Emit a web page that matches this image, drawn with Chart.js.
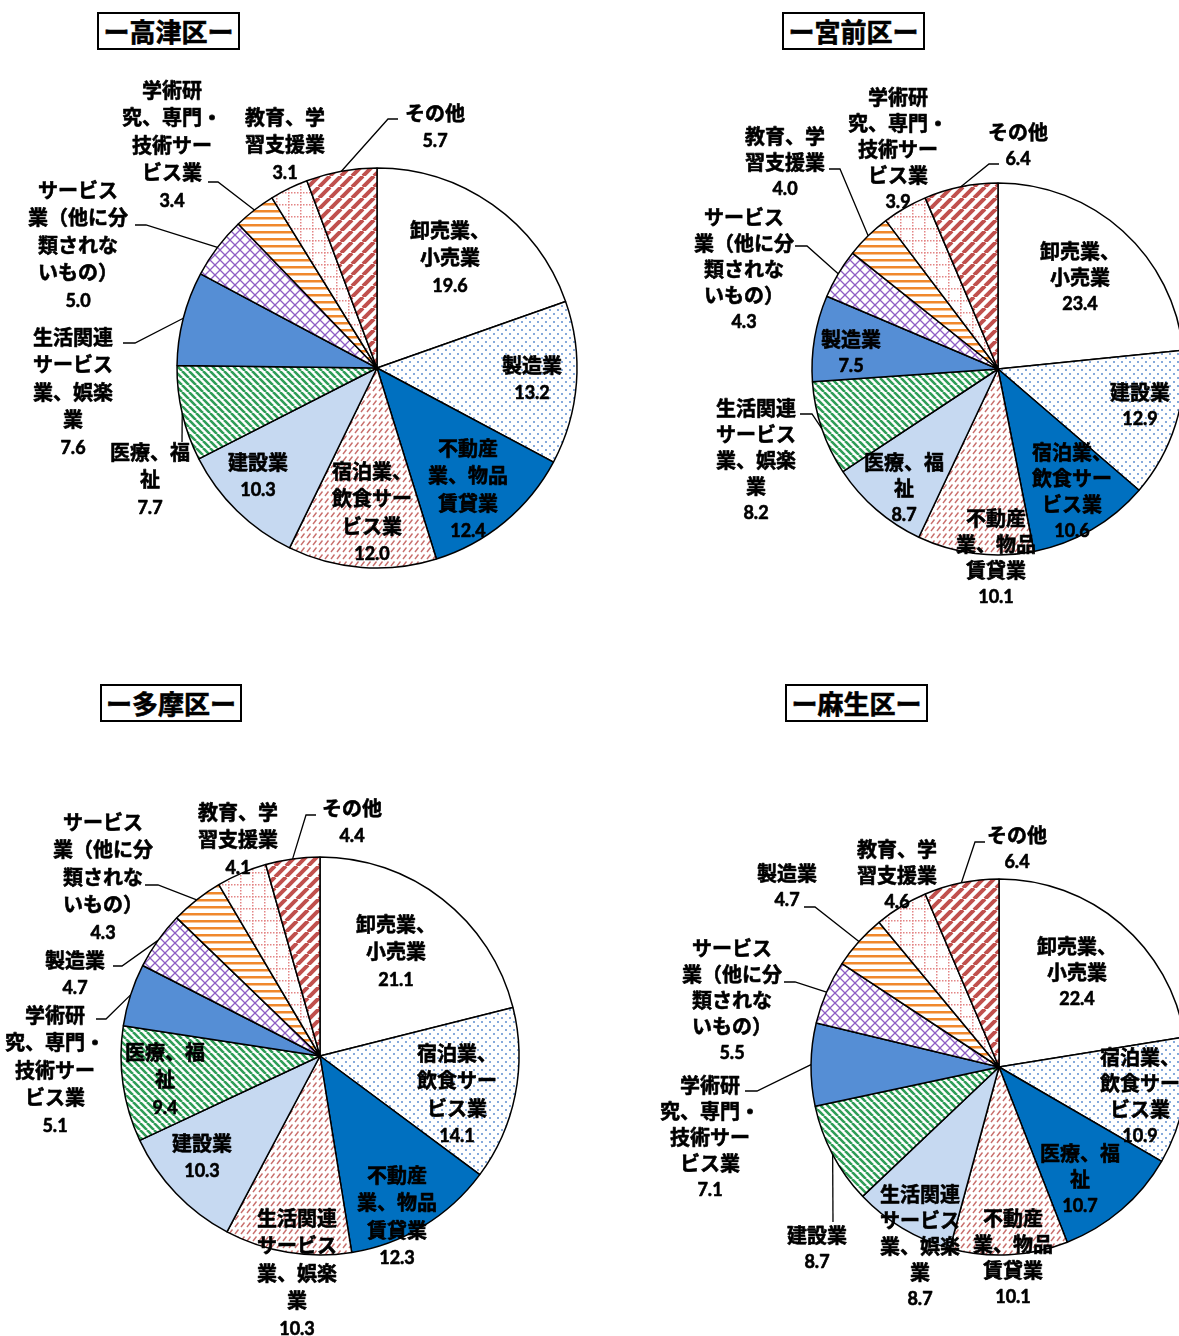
<!DOCTYPE html>
<html lang="ja">
<head>
<meta charset="utf-8">
<title>区別 産業別構成比</title>
<script src="https://cdn.jsdelivr.net/npm/chart.js@4.4.1/dist/chart.umd.min.js"></script>
<style>
  body {
    margin: 0;
    width: 1179px;
    height: 1336px;
    overflow: hidden;
    background: #fff;
    position: relative;
    font-family: "Noto Sans CJK JP", sans-serif;
  }
  canvas {
    position: absolute;
  }
  .ward-title {
    position: absolute;
    box-sizing: border-box;
    height: 38px;
    border: 2px solid #000;
    font-weight: bold;
    font-size: 26px;
    line-height: 33px;
    text-align: center;
    -webkit-text-stroke: 0.6px #000;
  }
</style>
</head>
<body>
<div class="ward-title" style="left:97px;top:12px;width:143px;">ー高津区ー</div>
<div class="ward-title" style="left:782px;top:12px;width:143px;">ー宮前区ー</div>
<div class="ward-title" style="left:100px;top:684px;width:142px;">ー多摩区ー</div>
<div class="ward-title" style="left:785px;top:684px;width:143px;">ー麻生区ー</div>

<canvas id="takatsuChart" width="600" height="668" style="left:0;top:0;"></canvas>
<canvas id="miyamaeChart" width="600" height="668" style="left:600px;top:0;"></canvas>
<canvas id="tamaChart" width="600" height="668" style="left:0;top:668px;"></canvas>
<canvas id="asaoChart" width="600" height="668" style="left:600px;top:668px;"></canvas>

<script>
// Category names (line breaks as in the printed labels) and shares (%)
const takatsuCategories = [
  "卸売業、\n小売業", "製造業", "不動産\n業、物品\n賃貸業", "宿泊業、\n飲食サー\nビス業",
  "建設業", "医療、福\n祉", "生活関連\nサービス\n業、娯楽\n業",
  "サービス\n業（他に分\n類されな\nいもの）", "学術研\n究、専門・\n技術サー\nビス業",
  "教育、学\n習支援業", "その他"
];
const takatsuValues = [19.6, 13.2, 12.4, 12.0, 10.3, 7.7, 7.6, 5.0, 3.4, 3.1, 5.7];

const miyamaeCategories = [
  "卸売業、\n小売業", "建設業", "宿泊業、\n飲食サー\nビス業", "不動産\n業、物品\n賃貸業",
  "医療、福\n祉", "生活関連\nサービス\n業、娯楽\n業", "製造業",
  "サービス\n業（他に分\n類されな\nいもの）", "教育、学\n習支援業",
  "学術研\n究、専門・\n技術サー\nビス業", "その他"
];
const miyamaeValues = [23.4, 12.9, 10.6, 10.1, 8.7, 8.2, 7.5, 4.3, 4.0, 3.9, 6.4];

const tamaCategories = [
  "卸売業、\n小売業", "宿泊業、\n飲食サー\nビス業", "不動産\n業、物品\n賃貸業",
  "生活関連\nサービス\n業、娯楽\n業", "建設業", "医療、福\n祉",
  "学術研\n究、専門・\n技術サー\nビス業", "製造業",
  "サービス\n業（他に分\n類されな\nいもの）", "教育、学\n習支援業", "その他"
];
const tamaValues = [21.1, 14.1, 12.3, 10.3, 10.3, 9.4, 5.1, 4.7, 4.3, 4.1, 4.4];

const asaoCategories = [
  "卸売業、\n小売業", "宿泊業、\n飲食サー\nビス業", "医療、福\n祉", "不動産\n業、物品\n賃貸業",
  "生活関連\nサービス\n業、娯楽\n業", "建設業",
  "学術研\n究、専門・\n技術サー\nビス業", "サービス\n業（他に分\n類されな\nいもの）",
  "製造業", "教育、学\n習支援業", "その他"
];
const asaoValues = [22.4, 10.9, 10.7, 10.1, 8.7, 8.7, 7.1, 5.5, 4.7, 4.6, 6.4];

// Label layout (page coordinates: centre x, middle of first line) and leader elbows
const takatsuLabelXY = [[450, 230], [532, 365], [468, 448], [372, 471], [258, 462], [150, 452],
  [73, 337], [78, 190], [172, 90], [285, 117], [435, 113]];
const takatsuLeaders = [null, null, null, null, null, [[182, 442]], [[123, 343], [135, 343]],
  [[135, 225], [146, 225]], [[208, 182], [218, 182]], null, [[398, 119], [388, 119]]];

const miyamaeLabelXY = [[1080, 251], [1140, 392], [1072, 452], [996, 518], [904, 462], [756, 408],
  [851, 339], [744, 217], [785, 136], [898, 97], [1018, 132]];
const miyamaeLeaders = [null, null, null, null, null, [[800, 414], [812, 414]], null,
  [[795, 246], [807, 246]], [[829, 169], [840, 169]], null, [[999, 164], [989, 164]]];

const tamaLabelXY = [[396, 924], [457, 1053], [397, 1175], [297, 1218], [202, 1143], [165, 1052],
  [55, 1015], [75, 960], [103, 822], [238, 812], [352, 808]];
const tamaLeaders = [null, null, null, null, null, null, [[96, 1019], [106, 1019]],
  [[113, 966], [122, 966]], [[145, 885], [158, 885]], null, [[316, 815], [306, 815]]];

const asaoLabelXY = [[1077, 946], [1140, 1057], [1080, 1153], [1013, 1218], [920, 1194], [817, 1235],
  [710, 1085], [732, 948], [787, 873], [897, 849], [1017, 835]];
const asaoLeaders = [null, null, null, null, null, [[833, 1222]], [[745, 1091], [757, 1091]],
  [[784, 982], [795, 982]], [[804, 907], [815, 907]], null, [[985, 842], [975, 842]]];

// Build a repeating fill from a small tile
const patternCtx = document.createElement("canvas").getContext("2d");
function makePattern(w, h, draw) {
  const tile = document.createElement("canvas");
  tile.width = w;
  tile.height = h;
  const g = tile.getContext("2d");
  g.fillStyle = "#ffffff";
  g.fillRect(0, 0, w, h);
  draw(g, w, h);
  return patternCtx.createPattern(tile, "repeat");
}

function diagonal(g, s, up) {
  g.beginPath();
  for (let k = -1; k <= 1; k++) {
    if (up) {
      g.moveTo(k * s, s);
      g.lineTo(k * s + s, 0);
    } else {
      g.moveTo(k * s, 0);
      g.lineTo(k * s + s, s);
    }
  }
  g.stroke();
}

// Fills by slice position (same order in every ward)
const sliceFills = [
  "#ffffff",
  makePattern(8, 8, (g) => {
    g.fillStyle = "#86aadb";
    g.fillRect(1, 1, 2, 2);
    g.fillRect(5, 5, 2, 2);
  }),
  "#0070c0",
  makePattern(6, 7, (g) => {
    g.strokeStyle = "#c86e6b";
    g.lineWidth = 1.4;
    g.beginPath();
    g.moveTo(1, 6);
    g.lineTo(4.5, 1.5);
    g.stroke();
  }),
  "#c6d9f1",
  makePattern(7, 7, (g, s) => {
    g.strokeStyle = "#2f9d57";
    g.lineWidth = 2.6;
    diagonal(g, s, false);
  }),
  "#558ed5",
  makePattern(10, 10, (g, s) => {
    g.strokeStyle = "#8f5fc4";
    g.lineWidth = 1.3;
    diagonal(g, s, false);
    diagonal(g, s, true);
  }),
  makePattern(4, 7, (g) => {
    g.fillStyle = "#f0882c";
    g.fillRect(0, 0, 4, 2.5);
  }),
  makePattern(12, 12, (g) => {
    g.fillStyle = "#e38585";
    for (let i = 0; i < 12; i += 3) {
      g.fillRect(i, 0, 1.5, 1.5);
      g.fillRect(0, i, 1.5, 1.5);
    }
  }),
  makePattern(11, 11, (g, s) => {
    g.strokeStyle = "#c0504d";
    g.lineWidth = 4;
    diagonal(g, s, true);
  }),
];

// Heavier text: fill plus a thin outline
function boldText(ctx, text, x, y) {
  ctx.fillText(text, x, y);
  ctx.strokeText(text, x, y);
}

// Draw the category labels, values and leader lines
const sliceLabelPlugin = {
  id: "sliceLabels",
  afterDatasetsDraw(chart, args, opts) {
    const ctx = chart.ctx;
    const meta = chart.getDatasetMeta(0);
    const values = chart.data.datasets[0].data;
    const [ox, oy] = opts.origin;

    ctx.save();
    ctx.strokeStyle = "#000";
    ctx.lineWidth = 1.3;
    meta.data.forEach((arc, i) => {
      const pts = opts.leaders[i];
      if (!pts) return;
      const mid = (arc.startAngle + arc.endAngle) / 2;
      ctx.beginPath();
      ctx.moveTo(pts[0][0] - ox, pts[0][1] - oy);
      pts.slice(1).forEach((p) => ctx.lineTo(p[0] - ox, p[1] - oy));
      ctx.lineTo(arc.x + arc.outerRadius * Math.cos(mid), arc.y + arc.outerRadius * Math.sin(mid));
      ctx.stroke();
    });

    ctx.fillStyle = "#000";
    ctx.lineWidth = 0.6;
    ctx.lineJoin = "round";
    ctx.textAlign = "center";
    ctx.textBaseline = "middle";
    chart.data.labels.forEach((name, i) => {
      const [x, y] = opts.xy[i];
      const lines = name.split("\n");
      ctx.font = 'bold 20px "Noto Sans CJK JP"';
      lines.forEach((line, j) => boldText(ctx, line, x - ox, y - oy + j * opts.gap));
      ctx.font = "bold 18px Lato";
      boldText(ctx, values[i].toFixed(1), x - ox, y - oy + lines.length * opts.gap + 1);
    });
    ctx.restore();
  },
};

// Create one pie, placing it by its centre and radius on the page
function drawWardPie(canvasId, origin, centre, radius, categories, values, labelXY, leaders, gap) {
  const canvas = document.getElementById(canvasId);
  const border = 1.5;
  const side = radius * 2 + border;
  const left = centre[0] - side / 2 - origin[0];
  const top = centre[1] - side / 2 - origin[1];

  return new Chart(canvas, {
    type: "pie",
    data: {
      labels: categories,
      datasets: [
        {
          data: values,
          backgroundColor: sliceFills,
          borderColor: "#000",
          borderWidth: border,
        },
      ],
    },
    options: {
      responsive: false,
      animation: false,
      events: [],
      layout: {
        padding: {
          left: left,
          top: top,
          right: canvas.width - left - side,
          bottom: canvas.height - top - side,
        },
      },
      plugins: {
        legend: { display: false },
        tooltip: { enabled: false },
        sliceLabels: { origin: origin, xy: labelXY, leaders: leaders, gap: gap },
      },
    },
    plugins: [sliceLabelPlugin],
  });
}

document.fonts.load('bold 20px "Noto Sans CJK JP"').then(() => document.fonts.load("bold 18px Lato")).finally(() => {
  drawWardPie("takatsuChart", [0, 0], [377, 368], 200, takatsuCategories, takatsuValues, takatsuLabelXY, takatsuLeaders, 27.5);
  drawWardPie("miyamaeChart", [600, 0], [998, 369], 186, miyamaeCategories, miyamaeValues, miyamaeLabelXY, miyamaeLeaders, 26);
  drawWardPie("tamaChart", [0, 668], [320, 1056], 199, tamaCategories, tamaValues, tamaLabelXY, tamaLeaders, 27.5);
  drawWardPie("asaoChart", [600, 668], [999, 1067], 188, asaoCategories, asaoValues, asaoLabelXY, asaoLeaders, 26);
});
</script>
</body>
</html>
